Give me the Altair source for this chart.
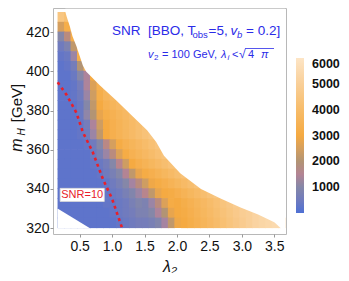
import altair as alt
import pandas as pd

# ---------------- data ----------------
# grid of SNR values (in units of 100), rows = lower edge of mH bin (5 GeV bins),
# columns start at lambda_2 = 0.16 in steps of 0.1
lam0, dlam, dmh = 0.16, 0.1, 5
snr_rows = {
    425: [45, 42],
    420: [25, 32, 40],
    415: [10, 18, 32],
    410: [5, 8, 22, 36],
    405: [3, 4, 12, 32],
    400: [2, 3, 6, 20, 36],
    395: [2, 2, 4, 10, 14, 30],
    390: [2, 2, 3, 6, 14, 26, 34, 38],
    385: [2, 2, 3, 5, 12, 24, 32, 36, 38, 40],
    380: [2, 2, 2, 4, 10, 22, 30, 34, 36, 38, 40],
    375: [2, 2, 2, 4, 11, 20, 28, 32, 34, 36, 38, 40, 42],
    370: [2, 2, 2, 3, 6, 14, 24, 30, 33, 35, 37, 39, 41, 43],
    365: [2, 2, 2, 3, 5, 12, 22, 30, 33, 35, 37, 39, 41, 43, 45, 46],
    360: [2, 2, 2, 2, 3, 5, 10, 17, 25, 31, 34, 36, 38, 40, 42, 44],
    355: [2, 2, 2, 2, 2, 4, 7, 12, 18, 26, 31, 34, 36, 38, 40, 42, 44, 46],
    350: [2, 2, 2, 2, 2, 3, 4, 6, 10, 16, 24, 30, 33, 35, 37, 39, 41, 43, 45],
    345: [2, 2, 2, 2, 2, 2, 3, 5, 7, 10, 15, 22, 28, 31, 33, 35, 37, 39, 41, 43, 45],
    340: [2, 2, 2, 2, 2, 2, 2, 3, 5, 7, 10, 13, 18, 24, 29, 31, 33, 35, 37, 39, 41, 43, 45],
    335: [2, 2, 2, 2, 2, 2, 2, 3, 4, 5, 7, 9, 12, 16, 22, 28, 30, 31, 33, 35, 37, 39, 41,
          43, 45, 47],
    330: [2, 2, 2, 2, 2, 2, 2, 3, 3, 4, 5, 7, 9, 8, 12, 18, 26, 31, 30, 32, 34, 36, 38, 40,
          42, 44, 46, 48, 49],
    325: [2, 2, 2, 2, 2, 2, 2, 2, 3, 4, 5, 6, 8, 8, 10, 14, 20, 28, 30, 31, 33, 35, 37, 39,
          41, 43, 45, 47, 49, 50, 52, 53, 54],
    320: [2, 2, 2, 2, 2, 2, 2, 2, 2, 3, 4, 5, 6, 6, 7, 9, 13, 22, 29, 30, 32, 34, 36, 38,
          40, 42, 44, 46, 48, 50, 52, 53, 54, 55, 56],
}

# upper-right edge of the allowed region
edge_lam = [0.28, 0.30, 0.35, 0.39, 0.45, 0.50, 0.55, 0.60, 0.81, 1.07, 1.32, 1.54, 1.68,
            1.80, 2.05, 2.37, 2.68, 2.98, 3.25, 3.50, 3.60, 3.62, 3.67]
edge_mh = [430.5, 428, 423, 418, 413, 408, 403, 400, 393, 385, 377, 370, 364,
           357, 348, 340, 335, 330.5, 327, 323, 320, 319, 319]
# lower-left cut of the region
cut_lam = [0.16, 0.66]
cut_mh = [330, 320]

# SNR = 10 contour
c_lam = [0.15, 0.30, 0.45, 0.55, 0.70, 0.86, 1.00, 1.15]
c_mh = [395, 388, 379, 369, 359, 345, 335, 320.5]

legend_ticks = [1000, 2000, 3000, 4000, 5000, 6000]
x_ticks = [0.5, 1.0, 1.5, 2.0, 2.5, 3.0, 3.5]
y_ticks = [320, 340, 360, 380, 400, 420]

# ---------------- build tables ----------------
cells = []
for mh, vals in snr_rows.items():
    for k, v in enumerate(vals):
        cells.append({"x0": lam0 + dlam * k, "x1": lam0 + dlam * (k + 1) + 0.012,
                      "y0": mh, "y1": mh + dmh + 0.35, "snr": v * 100})
cells = pd.DataFrame(cells)
edge_df = pd.DataFrame({"lam": edge_lam, "mh": edge_mh, "top": 432.0})
cut_df = pd.DataFrame({"lam": cut_lam, "mh": cut_mh, "bot": 320.0})
cont_df = pd.DataFrame({"lam": c_lam, "mh": c_mh})

XD = [0.09, 3.68]
YD = [317, 432.4]
xs = alt.Scale(domain=XD, nice=False, zero=False)
ys = alt.Scale(domain=YD, nice=False, zero=False)
ax_x = alt.Axis(values=x_ticks, format=".1f", title="λ₂", labelOverlap=False)
ax_y = alt.Axis(values=y_ticks, format="d", title=None, labelOverlap=False)


def X(f):
    return alt.X(f, scale=xs, axis=ax_x)


def Y(f):
    return alt.Y(f, scale=ys, axis=ax_y)


crng = ["#4e70d4", "#8587a8", "#b29474", "#f5aa42", "#f7bc6a", "#f9cf98", "#fde5c6"]

heat = alt.Chart(cells).mark_rect(strokeWidth=0).encode(
    x=X("x0:Q"), x2="x1:Q", y=Y("y0:Q"), y2="y1:Q",
    color=alt.Color("snr:Q", scale=alt.Scale(domain=[0, 6000], range=crng, clamp=True),
                    legend=alt.Legend(type="gradient", orient="none", legendX=243,
                                      legendY=50, direction="vertical", title=None,
                                      gradientLength=155, gradientThickness=8,
                                      gradientStrokeWidth=0, values=legend_ticks,
                                      format="d", labelOffset=8, labelOverlap=False)),
)

mask_edge = alt.Chart(edge_df).mark_area(color="white", opacity=1).encode(
    x=X("lam:Q"), y=Y("mh:Q"), y2="top:Q")
mask_cut = alt.Chart(cut_df).mark_area(color="white", opacity=1).encode(
    x=X("lam:Q"), y=Y("mh:Q"), y2="bot:Q")

contour = alt.Chart(cont_df).mark_line(color="#e8202a", strokeWidth=2.6,
                                       strokeDash=[3, 3.5]).encode(
    x=X("lam:Q"), y=Y("mh:Q"), order="mh:Q")

lab_df = pd.DataFrame({"x0": [0.20], "x1": [0.88], "y0": [333.6], "y1": [340.3],
                       "xm": [0.54], "ym": [336.9], "t": ["SNR=10"]})
lab_box = alt.Chart(lab_df).mark_rect(fill="white", stroke="#d8d8d8",
                                      strokeWidth=0.8).encode(
    x=X("x0:Q"), x2="x1:Q", y=Y("y0:Q"), y2="y1:Q")
lab_txt = alt.Chart(lab_df).mark_text(color="#e8202a", font="Liberation Sans",
                                      fontSize=11, baseline="middle").encode(
    x=X("xm:Q"), y=Y("ym:Q"), text="t:N")

BLUE = "#2b2be8"
# (text, x, y, size, italic) positions in pixels relative to the plot's top-left corner
ann = [
    ("SNR\u00a0\u00a0[BBO, T", 59, 27, 13.5, False),
    ("obs", 139.5, 30, 9.5, False),
    ("=5,", 155.5, 27, 13.5, False),
    ("v", 177.5, 27, 13.5, True),
    ("b", 184, 30, 9.5, True),
    ("= 0.2]", 193, 27, 13.5, False),
    ("v", 95, 49.5, 11, True),
    ("2", 101, 52, 8, False),
    ("= 100 GeV,", 109, 49.5, 11, False),
    ("λ", 168, 49.5, 11, True),
    ("i", 174.5, 52, 8, True),
    ("<", 179, 49.5, 11, False),
    ("√", 186, 50, 12, False),
    ("4", 195, 49.5, 11, False),
    ("π", 208, 49.5, 11, True),
]
ann_layers = []
for t, x, y, s, it in ann:
    ann_layers.append(
        alt.Chart(pd.DataFrame({"t": [t]})).mark_text(
            align="left", baseline="alphabetic", font="Liberation Sans", fontSize=s,
            fontStyle="italic" if it else "normal", color=BLUE
        ).encode(text="t:N", x=alt.value(x), y=alt.value(y)))
overbar = alt.Chart(pd.DataFrame({"a": [0]})).mark_rule(color=BLUE, strokeWidth=0.8).encode(
    x=alt.value(192), x2=alt.value(221), y=alt.value(40.5))

# y-axis title m_H [GeV] (rotated)
yt = [("[GeV]", -31, 95, 15, False), ("H", -28, 124, 10, True), ("m", -31, 137, 16, True)]
yt_layers = []
for t, x, y, s, it in yt:
    yt_layers.append(
        alt.Chart(pd.DataFrame({"t": [t]})).mark_text(
            align="center", baseline="alphabetic", angle=270, font="Liberation Sans",
            fontSize=s, fontStyle="italic" if it else "normal", color="#111"
        ).encode(text="t:N", x=alt.value(x), y=alt.value(y)))

chart = alt.layer(heat, mask_edge, mask_cut, contour, lab_box, lab_txt,
                  *ann_layers, overbar, *yt_layers).properties(
    width=233, height=226,
    autosize=alt.AutoSizeParams(type="none"),
    padding={"left": 45, "top": 0, "right": 55, "bottom": 39},
).configure_view(
    stroke="#b8b8b8", strokeWidth=1
).configure_axis(
    grid=False, domain=False, tickColor="#999", tickSize=3, labelPadding=1,
    labelFont="Liberation Sans", labelFontSize=14, labelColor="#111",
    titleFont="Liberation Sans", titleFontSize=16, titleFontWeight="normal",
    titleColor="#111",
).configure_axisX(
    labelPadding=2, titlePadding=5, titleFontStyle="italic"
).configure_legend(
    labelFont="Liberation Sans", labelFontSize=12.5, labelFontWeight="bold",
    labelColor="#111"
)

chart.save("out.html", embed_options={"renderer": "svg", "actions": False})
